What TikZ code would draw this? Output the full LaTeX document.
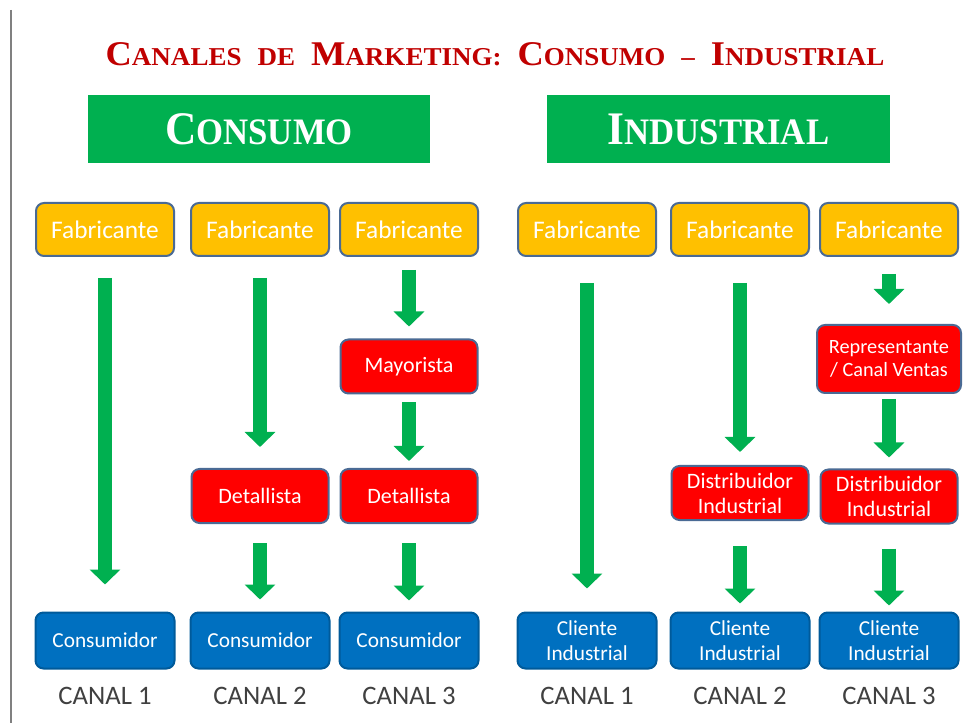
\documentclass[tikz,border=0pt]{standalone}
\usepackage{fontspec}
\setmainfont{Carlito}
\newfontfamily\titlefont[FakeStretch=1.05]{Liberation Serif}
\newfontfamily\headfont[FakeStretch=0.93]{Liberation Serif}
\usetikzlibrary{arrows.meta,positioning}
\definecolor{titlered}{HTML}{C00000}
\definecolor{headgreen}{HTML}{00B050}
\definecolor{fabyellow}{HTML}{FFC000}
\definecolor{midred}{HTML}{FF0000}
\definecolor{endblue}{HTML}{0070C0}
\definecolor{boxline}{HTML}{4A6A94}
\definecolor{canalgray}{HTML}{404040}
\newcommand{\tcap}[2]{{\fontsize{26pt}{26pt}\selectfont #1}{\fontsize{19.3pt}{19.3pt}\selectfont #2}}
\newcommand{\hcap}[2]{{\fontsize{35pt}{35pt}\selectfont #1}{\fontsize{28pt}{28pt}\selectfont #2}}
\newcommand{\wsep}{\hspace{12pt}}
\begin{document}
\begin{tikzpicture}[x=0.75pt,y=-0.75pt,
  header/.style={fill=headgreen,text=white,minimum height=51pt,font=\headfont\bfseries},
  box/.style={draw=boxline,line width=1.5pt,rounded corners=6pt,text=white,align=center,inner sep=2pt},
  fabbox/.style={box,fill=fabyellow,minimum width=103.5pt,minimum height=39.75pt,font=\fontsize{19pt}{20pt}\selectfont},
  midbox/.style={box,fill=midred,minimum width=102.75pt,minimum height=40.5pt,font=\fontsize{16.5pt}{18.75pt}\selectfont},
  endbox/.style={box,fill=endblue,draw=endblue!80!black,minimum width=104.25pt,minimum height=42pt,font=\fontsize{16pt}{18.75pt}\selectfont},
  canal/.style={inner sep=0pt,text=canalgray,font=\fontsize{20pt}{22pt}\selectfont},
  flow/.style={draw=headgreen,line width=10pt,-{Triangle[width=22.5pt,length=11.25pt]}},
  gap/.style 2 args={shorten <=#1,shorten >=#2}]
\useasboundingbox (0,0) rectangle (964,723);
\draw[gray,line width=1.5pt] (11,10) -- (11,723);
\node[text=titlered,font=\titlefont\bfseries\fontsize{19.3pt}{20pt}\selectfont] (title) at (495,54)
  {\tcap{C}{ANALES}\wsep\tcap{}{DE}\wsep\tcap{M}{ARKETING:}\wsep\tcap{C}{ONSUMO}\wsep\tcap{}{–}\wsep\tcap{I}{NDUSTRIAL}};
\node[header,minimum width=256.5pt] (consumo) at (259,129) {\hcap{C}{ONSUMO}};
\node[header,minimum width=257.25pt] (industrial) at (718.5,129) {\hcap{I}{NDUSTRIAL}};
\node[fabbox] (f1) at (105,229.5) {Fabricante};
\node[fabbox] (f2) at (260,229.5) {Fabricante};
\node[fabbox] (f3) at (409,229.5) {Fabricante};
\node[fabbox] (f4) at (587,229.5) {Fabricante};
\node[fabbox] (f5) at (740,229.5) {Fabricante};
\node[fabbox] (f6) at (889,229.5) {Fabricante};
\node[midbox] (m3) at (409,366.5) {Mayorista};
\node[midbox] (d2) at (260,496) {Detallista};
\node[midbox] (d3) at (409,496) {Detallista};
\node[midbox,minimum width=108pt,minimum height=51pt,font=\fontsize{15.2pt}{17.25pt}\selectfont] (r6) at (889,359) {Representante\\/ Canal Ventas};
\node[midbox] (i5) at (740,493) {Distribuidor\\Industrial};
\node[midbox] (i6) at (889,496.5) {Distribuidor\\Industrial};
\node[endbox] (c1) at (105,640.5) {Consumidor};
\node[endbox] (c2) at (260,640.5) {Consumidor};
\node[endbox] (c3) at (409,640.5) {Consumidor};
\node[endbox] (c4) at (587,640.5) {Cliente\\Industrial};
\node[endbox] (c5) at (740,640.5) {Cliente\\Industrial};
\node[endbox] (c6) at (889,640.5) {Cliente\\Industrial};
\node[canal,below=12.75pt of c1] (k1) {CANAL 1};
\node[canal,below=12.75pt of c2] (k2) {CANAL 2};
\node[canal,below=12.75pt of c3] (k3) {CANAL 3};
\node[canal,below=12.75pt of c4] (k4) {CANAL 1};
\node[canal,below=12.75pt of c5] (k5) {CANAL 2};
\node[canal,below=12.75pt of c6] (k6) {CANAL 3};
\draw[flow,gap={15.75pt}{20.25pt}] (f1) -- (c1);
\draw[flow,gap={15.75pt}{15.75pt}] (f2) -- (d2);
\draw[flow,gap={14.25pt}{9pt}] (d2) -- (c2);
\draw[flow,gap={9.75pt}{9pt}] (f3) -- (m3);
\draw[flow,gap={6pt}{5.25pt}] (m3) -- (d3);
\draw[flow,gap={14.25pt}{8.25pt}] (d3) -- (c3);
\draw[flow,gap={19.5pt}{17.25pt}] (f4) -- (c4);
\draw[flow,gap={19.5pt}{9.75pt}] (f5) -- (i5);
\draw[flow,gap={18.75pt}{6pt}] (i5) -- (c5);
\draw[flow,gap={12.75pt}{15pt}] (f6) -- (r6);
\draw[flow,gap={3.75pt}{8.25pt}] (r6) -- (i6);
\draw[flow,gap={18pt}{4.5pt}] (i6) -- (c6);
\end{tikzpicture}
\end{document}
